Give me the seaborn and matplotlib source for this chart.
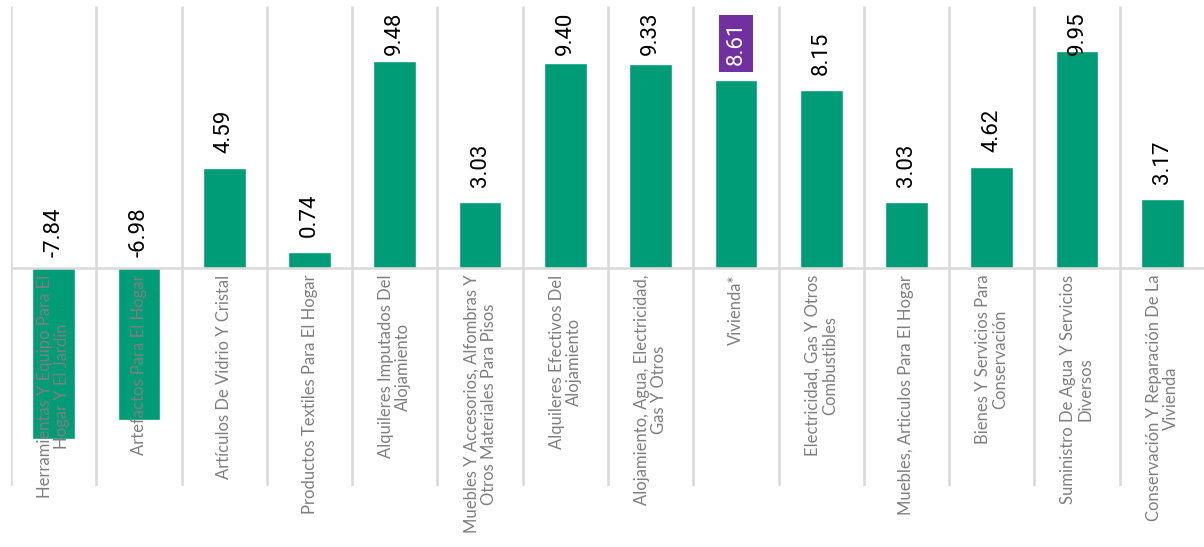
import matplotlib
matplotlib.use("Agg")
import matplotlib.pyplot as plt
import numpy as np
import pandas as pd
import seaborn as sns

categories = [
    "Herramientas Y Equipo Para El\nHogar Y El Jardín",
    "Artefactos Para El Hogar",
    "Artículos De Vidrio Y Cristal",
    "Productos Textiles Para El Hogar",
    "Alquileres Imputados Del\nAlojamiento",
    "Muebles Y Accesorios, Alfombras Y\nOtros Materiales Para Pisos",
    "Alquileres Efectivos Del\nAlojamiento",
    "Alojamiento, Agua, Electricidad,\nGas Y Otros",
    "Vivienda*",
    "Electricidad, Gas Y Otros\nCombustibles",
    "Muebles, Articulos Para El Hogar",
    "Bienes Y Servicios Para\nConservación",
    "Suministro De Agua Y Servicios\nDiversos",
    "Conservación Y Reparación De La\nVivienda",
]
values = [-7.84, -6.98, 4.59, 0.74, 9.48, 3.03, 9.40, 9.33, 8.61, 8.15, 3.03, 4.62, 9.95, 3.17]
highlight = "Vivienda*"

BAR = "#009b77"
PURPLE = "#7030a0"
GRID = "#d9d9d9"

df = pd.DataFrame({"cat": categories, "val": values})

sns.set_style("white")
plt.rcParams["font.family"] = ["Roboto", "DejaVu Sans"]

fig = plt.figure(figsize=(12.04, 5.47), dpi=100)
ax = fig.add_axes([11 / 1204, 61 / 547, 1194 / 1204, 480 / 547])

sns.barplot(data=df, x="cat", y="val", color=BAR, width=0.5, saturation=1,
            ax=ax, zorder=2)

ax.set_xlim(-0.5, len(categories) - 0.5)
ax.set_ylim(-10, 12)
for s in ax.spines.values():
    s.set_visible(False)
ax.set_xlabel("")
ax.set_ylabel("")
ax.set_xticks([])
ax.set_yticks([])

ax.vlines(np.arange(len(categories) + 1) - 0.5, -10, 12, color=GRID, lw=1.8, zorder=1)
ax.axhline(0, color=GRID, lw=1.8, zorder=3)

for i, (c, v) in enumerate(zip(categories, values)):
    y = min(max(v, 0) + (0.69 if v > 0 else 0.5), 9.77)
    if c == highlight:
        ax.text(i, y, f"{v:.2f}", rotation=90, ha="center", va="bottom",
                fontsize=16, color="white", zorder=5,
                bbox=dict(boxstyle="square,pad=0.3", fc=PURPLE, ec="none"))
    else:
        ax.text(i, y, f"{v:.2f}", rotation=90, ha="center", va="bottom",
                fontsize=16, color="black", zorder=5)
    ax.annotate(c, (i, 0), xytext=(0, -5), textcoords="offset points",
                rotation=90, ha="center", va="top", multialignment="center",
                fontsize=12, color="#7f7f7f", family=["Lato", "DejaVu Sans"],
                linespacing=1.1, zorder=5, annotation_clip=False)

fig.savefig("out.png", dpi=100)
